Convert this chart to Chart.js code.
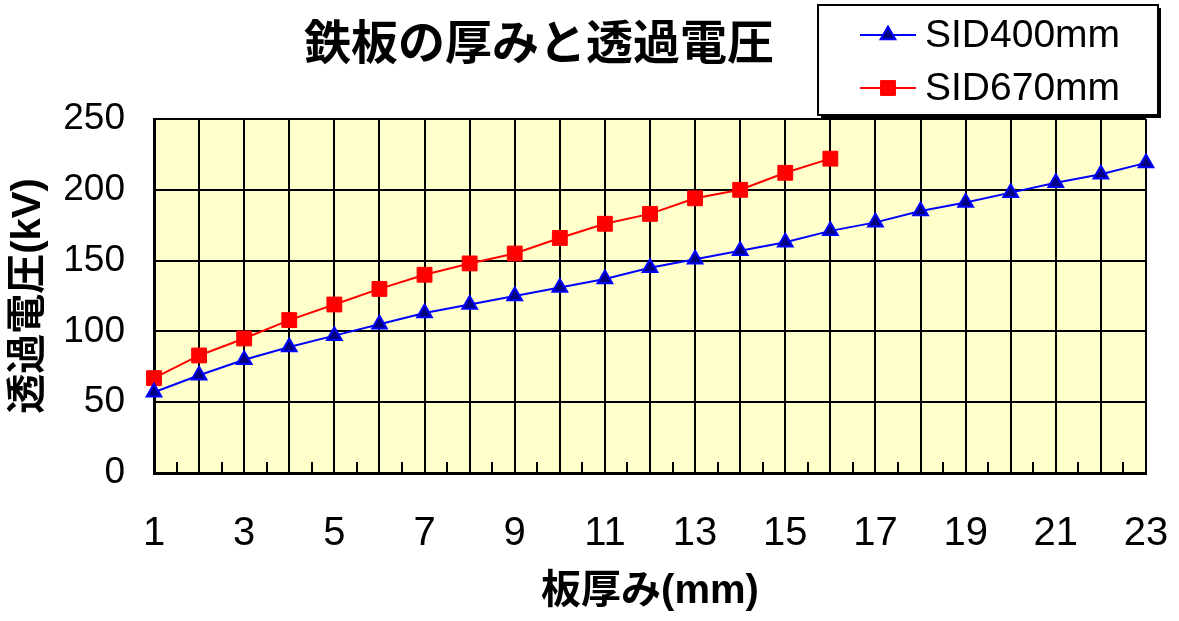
<!DOCTYPE html>
<html lang="ja">
<head>
<meta charset="utf-8">
<title>鉄板の厚みと透過電圧</title>
<script src="https://cdn.jsdelivr.net/npm/chart.js@4/dist/chart.umd.min.js"></script>
<style>
  html, body { margin: 0; padding: 0; background: #ffffff; }
  #wrap { width: 1179px; height: 621px; }
</style>
</head>
<body>
<div id="wrap"><canvas id="chart" width="1179" height="621"></canvas></div>
<script>
// Plate thickness (mm)
const thickness = [1, 2, 3, 4, 5, 6, 7, 8, 9, 10, 11, 12, 13, 14, 15, 16, 17, 18, 19, 20, 21, 22, 23];
// Penetration voltage (kV) at SID 400 mm
const sid400 = [57, 69, 80, 89, 97, 105, 113, 119, 125, 131, 137, 145, 151, 157, 163, 171, 177, 185, 191, 198, 205, 211, 219];
// Penetration voltage (kV) at SID 670 mm
const sid670 = [67, 83, 95, 108, 119, 130, 140, 148, 155, 166, 176, 183, 194, 200, 212, 222];
// Axis tick values
const xTicks = [1, 3, 5, 7, 9, 11, 13, 15, 17, 19, 21, 23];
const yTicks = [0, 50, 100, 150, 200, 250];
const seriesNames = ['SID400mm', 'SID670mm'];
const chartTitle = '鉄板の厚みと透過電圧';

const toPoints = (vals) => vals.map((v, i) => ({ x: thickness[i], y: v }));

const latinCjk = "'Liberation Sans', 'Noto Sans CJK JP', sans-serif";

// Pale yellow plot background
const plotBackground = {
  id: 'plotBackground',
  beforeDraw(chart) {
    const { ctx, chartArea: a } = chart;
    ctx.save();
    ctx.fillStyle = '#FFFFCC';
    ctx.fillRect(a.left, a.top, a.right - a.left, a.bottom - a.top);
    ctx.restore();
  }
};

// Short minor tick marks between the thickness gridlines
const minorTicks = {
  id: 'minorTicks',
  beforeDatasetsDraw(chart) {
    const { ctx, chartArea: a, scales: { x } } = chart;
    ctx.save();
    ctx.strokeStyle = '#000000';
    ctx.lineWidth = 2;
    ctx.beginPath();
    for (let i = 0; i < thickness.length - 1; i++) {
      const px = Math.round(x.getPixelForValue((thickness[i] + thickness[i + 1]) / 2));
      ctx.moveTo(px, a.bottom);
      ctx.lineTo(px, a.bottom - 11);
    }
    ctx.stroke();
    ctx.restore();
  }
};

// Chart heading
const heading = {
  id: 'heading',
  afterDraw(chart) {
    const { ctx } = chart;
    ctx.save();
    ctx.fillStyle = '#000000';
    ctx.font = "bold 47px 'Noto Sans CJK JP', sans-serif";
    ctx.textAlign = 'center';
    ctx.textBaseline = 'middle';
    ctx.fillText(chartTitle, 539, 41);
    ctx.restore();
  }
};

// Boxed legend with line + marker samples
function drawMarker(ctx, style, cx, cy, r, fill, stroke, bw) {
  ctx.beginPath();
  if (style === 'triangle') {
    let rad = 0;
    ctx.moveTo(cx + Math.sin(rad) * r, cy - Math.cos(rad) * r);
    rad += 2 * Math.PI / 3;
    ctx.lineTo(cx + Math.sin(rad) * r, cy - Math.cos(rad) * r);
    rad += 2 * Math.PI / 3;
    ctx.lineTo(cx + Math.sin(rad) * r, cy - Math.cos(rad) * r);
    ctx.closePath();
  } else {
    const s = Math.SQRT1_2 * r;
    ctx.rect(cx - s, cy - s, 2 * s, 2 * s);
  }
  ctx.fillStyle = fill;
  ctx.fill();
  ctx.lineWidth = bw;
  ctx.strokeStyle = stroke;
  ctx.stroke();
}

const boxLegend = {
  id: 'boxLegend',
  afterDraw(chart) {
    const { ctx } = chart;
    const bx = 818, by = 5, bw = 340, bh = 110;
    ctx.save();
    ctx.fillStyle = '#000000';
    ctx.fillRect(bx + 3, by + 3, bw, bh);
    ctx.fillStyle = '#FFFFFF';
    ctx.fillRect(bx, by, bw, bh);
    ctx.lineWidth = 2;
    ctx.strokeStyle = '#000000';
    ctx.strokeRect(bx, by, bw, bh);

    const rows = [35, 88];
    chart.data.datasets.forEach((ds, i) => {
      const y = rows[i];
      ctx.beginPath();
      ctx.moveTo(860, y);
      ctx.lineTo(916, y);
      ctx.lineWidth = ds.borderWidth;
      ctx.strokeStyle = ds.borderColor;
      ctx.stroke();
      drawMarker(ctx, ds.pointStyle, 888, y, ds.pointRadius, ds.pointBackgroundColor, ds.pointBorderColor, ds.pointBorderWidth);
      ctx.fillStyle = '#000000';
      ctx.font = "39px 'Liberation Sans', Arial, sans-serif";
      ctx.textAlign = 'left';
      ctx.textBaseline = 'middle';
      ctx.fillText(ds.label, 925, y + 1);
    });
    ctx.restore();
  }
};

new Chart(document.getElementById('chart'), {
  type: 'line',
  data: {
    datasets: [
      {
        label: seriesNames[0],
        data: toPoints(sid400),
        borderColor: '#0000FF',
        borderWidth: 2,
        pointStyle: 'triangle',
        pointRadius: 8.5,
        pointHoverRadius: 8.5,
        pointBackgroundColor: '#000080',
        pointBorderColor: '#0000FF',
        pointBorderWidth: 2,
        tension: 0,
        clip: false
      },
      {
        label: seriesNames[1],
        data: toPoints(sid670),
        borderColor: '#FF0000',
        borderWidth: 2,
        pointStyle: 'rect',
        pointRadius: 10.5,
        pointHoverRadius: 10.5,
        pointBackgroundColor: '#FF0000',
        pointBorderColor: '#FF0000',
        pointBorderWidth: 1,
        tension: 0,
        clip: false
      }
    ]
  },
  options: {
    responsive: false,
    devicePixelRatio: 1,
    animation: false,
    events: [],
    layout: { padding: { left: 0, top: 119, right: 33, bottom: 0 } },
    plugins: {
      legend: { display: false },
      title: { display: false },
      tooltip: { enabled: false }
    },
    scales: {
      x: {
        type: 'linear',
        min: thickness[0],
        max: thickness[thickness.length - 1],
        afterBuildTicks(scale) {
          scale.ticks = thickness.map(v => ({ value: v }));
        },
        afterFit(scale) {
          scale.height = 148;
          scale.paddingLeft = 0;
          scale.paddingRight = 0;
        },
        ticks: {
          autoSkip: false,
          maxRotation: 0,
          padding: 37,
          color: '#000000',
          font: { family: "'Liberation Sans', Arial, sans-serif", size: 40 },
          callback: (v) => (xTicks.includes(v) ? String(v) : '')
        },
        grid: { color: '#000000', lineWidth: 2, drawTicks: false },
        border: { display: true, color: '#000000', width: 3 },
        title: {
          display: true,
          text: '板厚み(mm)',
          color: '#000000',
          font: { family: latinCjk, size: 40, weight: 'bold' },
          padding: { top: 0, bottom: 5 }
        }
      },
      y: {
        type: 'linear',
        min: yTicks[0],
        max: yTicks[yTicks.length - 1],
        afterBuildTicks(scale) {
          scale.ticks = yTicks.map(v => ({ value: v }));
        },
        afterFit(scale) {
          scale.width = 154;
          scale.paddingTop = 0;
          scale.paddingBottom = 0;
        },
        ticks: {
          padding: 29,
          color: '#000000',
          font: { family: "'Liberation Sans', Arial, sans-serif", size: 37 }
        },
        grid: { color: '#000000', lineWidth: 2, drawTicks: false },
        border: { display: true, color: '#000000', width: 3 },
        title: {
          display: true,
          text: '透過電圧(kV)',
          color: '#000000',
          font: { family: latinCjk, size: 40, weight: 'bold' },
          padding: { top: 5, bottom: 0 }
        }
      }
    }
  },
  plugins: [plotBackground, minorTicks, heading, boxLegend]
});
</script>
</body>
</html>
